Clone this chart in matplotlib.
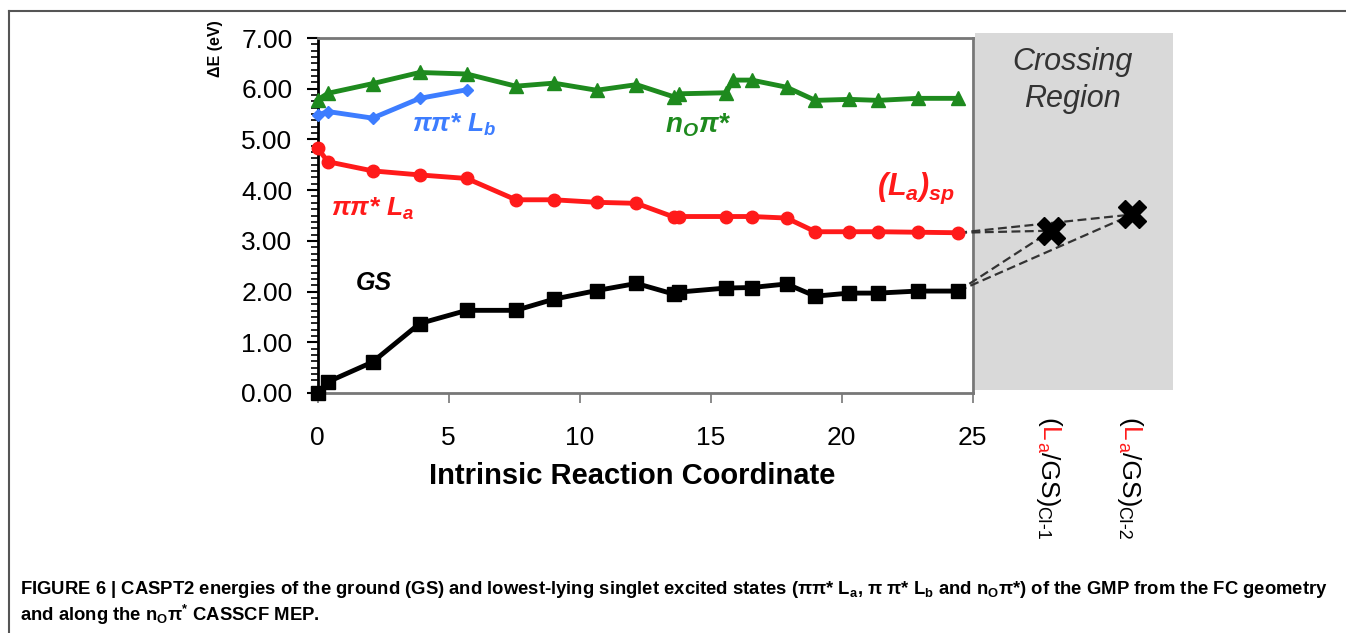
import matplotlib
matplotlib.use('Agg')
import matplotlib.pyplot as plt
from matplotlib.lines import Line2D
from matplotlib.patches import Rectangle
from matplotlib.ticker import MultipleLocator, FormatStrFormatter

plt.rcParams['font.family'] = ['Liberation Sans', 'DejaVu Sans']
plt.rcParams['mathtext.fontset'] = 'custom'
plt.rcParams['mathtext.rm'] = 'Liberation Sans'
plt.rcParams['mathtext.it'] = 'Liberation Sans:italic:bold'
plt.rcParams['mathtext.bf'] = 'Liberation Sans:bold'

# ------------------------------
# Data
# ------------------------------
x_gs = [0, 0.4, 2.1, 3.9, 5.7, 7.57, 9.02, 10.65, 12.17, 13.6, 13.8, 15.6, 16.57, 17.9, 19.0, 20.3, 21.4, 22.9, 24.45]
e_gs = [0.0, 0.22, 0.61, 1.37, 1.63, 1.63, 1.85, 2.02, 2.16, 1.95, 1.99, 2.07, 2.08, 2.15, 1.91, 1.97, 1.97, 2.01, 2.01]

x_la = [0, 0.4, 2.1, 3.9, 5.7, 7.57, 9.02, 10.65, 12.17, 13.6, 13.8, 15.6, 16.57, 17.9, 19.0, 20.3, 21.4, 22.9, 24.45]
e_la = [4.83, 4.56, 4.38, 4.30, 4.23, 3.81, 3.81, 3.76, 3.74, 3.47, 3.48, 3.48, 3.48, 3.45, 3.18, 3.18, 3.18, 3.17, 3.16]

x_nopi = [0, 0.4, 2.1, 3.9, 5.7, 7.57, 9.02, 10.65, 12.17, 13.6, 13.8, 15.6, 15.85, 16.57, 17.9, 19.0, 20.3, 21.4, 22.9, 24.45]
e_nopi = [5.78, 5.91, 6.10, 6.32, 6.29, 6.05, 6.11, 5.97, 6.08, 5.84, 5.90, 5.92, 6.17, 6.17, 6.03, 5.77, 5.79, 5.77, 5.81, 5.81]

x_lb = [0, 0.4, 2.1, 3.9, 5.7]
e_lb = [5.48, 5.55, 5.42, 5.81, 5.98]

# conical intersections (crossing region)
ci_pos = [28.0, 31.1]
ci_energy = [3.2, 3.52]
ci_names = ['CI-1', 'CI-2']

xticks = [0, 5, 10, 15, 20, 25]

# ------------------------------
# Figure
# ------------------------------
W, H = 1346, 633
fig = plt.figure(figsize=(W / 100, H / 100), dpi=100)
ax = fig.add_axes([317.5 / W, (H - 393) / H, 855 / W, 355 / H])
ax.set_xlim(0, 32.63)
ax.set_ylim(0, 7)

# outer border of the figure panel
fig.add_artist(Line2D([9 / W, 1.0], [1 - 11 / H, 1 - 11 / H], color='#555555', lw=1.5, transform=fig.transFigure))
fig.add_artist(Line2D([9 / W, 9 / W], [0, 1 - 11 / H], color='#555555', lw=1.5, transform=fig.transFigure))

# crossing region shading
ax.add_patch(Rectangle((25.1, 0.06), 7.53, 7.04, facecolor='#d9d9d9', edgecolor='none',
                       clip_on=False, zorder=0))
ax.text(28.8, 6.52, 'Crossing', ha='center', va='center', fontsize=22, style='italic', color='#333333')
ax.text(28.8, 5.8, 'Region', ha='center', va='center', fontsize=22, style='italic', color='#333333')

# spines
frame_col = '#777777'
ax.spines['left'].set_linewidth(2)
ax.spines['left'].set_color('black')
for side in ['bottom', 'top', 'right']:
    ax.spines[side].set_color(frame_col)
    ax.spines[side].set_linewidth(2)
ax.spines['bottom'].set_bounds(0, 25)
ax.spines['top'].set_bounds(0, 25)
ax.spines['right'].set_position(('data', 25))

ax.set_xticks(xticks)
ax.set_xticklabels([str(t) for t in xticks])
ax.tick_params(axis='x', direction='out', length=7, width=1.2, color=frame_col, pad=17, labelsize=19)
ax.yaxis.set_major_locator(MultipleLocator(1))
ax.yaxis.set_minor_locator(MultipleLocator(0.125))
ax.yaxis.set_major_formatter(FormatStrFormatter('%.2f'))
ax.tick_params(axis='y', which='major', direction='out', length=8, width=1.5, color='black', pad=10, labelsize=19)
ax.tick_params(axis='y', which='minor', direction='out', length=5, width=1.2, color='black')
ax.tick_params(right=False, top=False)

# curves
ax.plot(x_nopi, e_nopi, '-^', color='#1e8a1e', lw=3.5, ms=10, clip_on=False, zorder=4)
ax.plot(x_lb, e_lb, '-D', color='#3d7dff', lw=3.5, ms=6, clip_on=False, zorder=4)
ax.plot(x_la, e_la, '-o', color='#ff1a1a', lw=3.5, ms=9, clip_on=False, zorder=4)
ax.plot(x_gs, e_gs, '-s', color='black', lw=3.5, ms=10, clip_on=False, zorder=5)

# dashed connections to the crossing points
for x_end, e_end in [(x_la[-1], e_la[-1]), (x_gs[-1], e_gs[-1])]:
    for cx, ce in zip(ci_pos, ci_energy):
        ax.plot([x_end, cx], [e_end, ce], ls=(0, (4, 2)), color='#333333', lw=1.6,
                clip_on=False, zorder=3)
ax.plot(ci_pos, ci_energy, 'X', color='black', ms=20, clip_on=False, zorder=6)

# state labels
lab = dict(fontweight='bold', style='italic', ha='left', va='center')
ax.text(3.6, 5.28, r'ππ* $L_b$', color='#3d7dff', fontsize=19, **lab)
ax.text(13.25, 5.28, r'n$_O$π*', color='#1e8a1e', fontsize=20, **lab)
ax.text(0.5, 3.63, r'ππ* $L_a$', color='#ff1a1a', fontsize=19, **lab)
ax.text(21.35, 4.04, r'($L_a$)$_{sp}$', color='#ff1a1a', fontsize=22, **lab)
ax.text(1.45, 2.17, 'GS', color='black', fontsize=18, **lab)

# axis titles
ax.set_ylabel('ΔE (eV)', fontsize=11.5, fontweight='bold')
ax.yaxis.set_label_coords(-0.11, 0.97)
ax.text(12.0, -0.235, 'Intrinsic Reaction Coordinate', transform=ax.get_xaxis_transform(),
        ha='center', va='center', fontsize=21, fontweight='bold')

# rotated category labels with the red L_a
renderer = fig.canvas.get_renderer()


def rotated_label(x_px, y_px, name):
    pieces = [('(', 'black', 19, 0), ('L', '#ff1a1a', 19, 0), ('a', '#ff1a1a', 13, 4),
              ('/GS)', 'black', 19, 0), (name, 'black', 13, 4)]
    y = y_px
    for s, c, fs, shift in pieces:
        t = fig.text((x_px - shift) / W, 1 - y / H, s, color=c, fontsize=fs, rotation=-90,
                     rotation_mode='anchor', ha='left', va='baseline')
        y += t.get_window_extent(renderer).height


rotated_label(1041, 418, ci_names[0])
rotated_label(1122, 418, ci_names[1])

# caption
fig.text(20 / W, 1 - 590 / H,
         r'FIGURE 6 | CASPT2 energies of the ground (GS) and lowest-lying singlet excited states '
         r'(ππ* L$_\mathbf{a}$, π π* L$_\mathbf{b}$ and n$_\mathbf{O}$π*) of the GMP from the FC geometry',
         fontsize=13.3, fontweight='bold', va='center', ha='left')
fig.text(20 / W, 1 - 615 / H, r'and along the n$_\mathbf{O}$π$^\mathbf{*}$ CASSCF MEP.',
         fontsize=13.3, fontweight='bold', va='center', ha='left')

fig.savefig('out.png', dpi=100)
